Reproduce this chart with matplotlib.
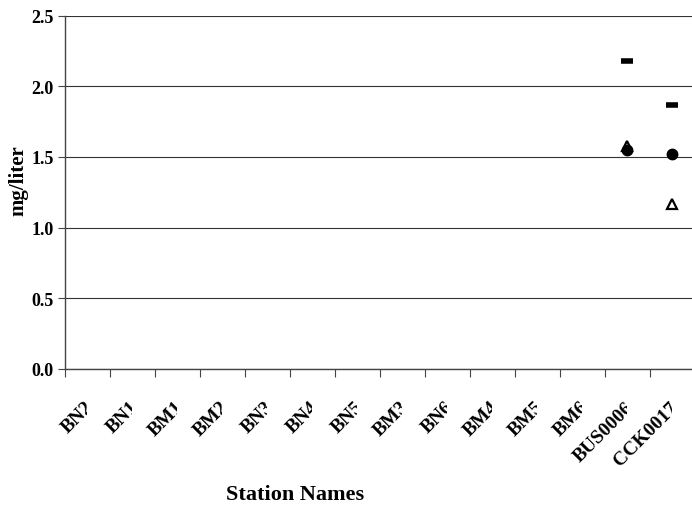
import numpy as np
import matplotlib
matplotlib.use("Agg")
import matplotlib.pyplot as plt
import matplotlib.transforms as mtransforms

# Station names along the x axis
stations = ["BN2", "BN1", "BM1", "BM2", "BN3", "BN4", "BN5", "BM3", "BN6",
            "BM4", "BM5", "BM6", "BUS0006", "CCK0017"]

# Values (mg/liter), None where nothing is plotted
dash_vals = [None] * 12 + [2.18, 1.87]
circle_vals = [None] * 12 + [1.55, 1.52]
triangle_vals = [None] * 12 + [1.575, 1.17]

plt.rcParams["font.family"] = ["Liberation Serif", "DejaVu Serif"]
plt.rcParams["font.weight"] = "bold"

W, H = 692, 510
fig = plt.figure(figsize=(W / 100, H / 100), dpi=100)
ax = fig.add_axes([65 / W, (H - 370) / H, 1 - 65 / W, (370 - 16.5) / H])

x = np.arange(len(stations))


def to_arr(vals):
    return np.array([np.nan if v is None else v for v in vals], dtype=float)


ax.plot(x, to_arr(triangle_vals), linestyle="none", marker="^", ms=6.5,
        mfc="white", mec="black", mew=1.6, zorder=3)
ax.plot(x, to_arr(circle_vals), linestyle="none", marker="o", ms=7.5,
        color="black", zorder=4)
ax.plot(x, to_arr(dash_vals), linestyle="none", marker="_", ms=9,
        mew=4, color="black", zorder=4)

ax.set_ylim(0, 2.5)
yt = np.arange(0, 2.51, 0.5)
ax.set_yticks(yt)
ax.set_yticklabels([f"{v:.1f}" for v in yt], fontsize=13, fontweight="bold")
ax.yaxis.grid(True, color="#333333", lw=0.8)
ax.set_axisbelow(True)

ax.set_xlim(-0.5, -0.5 + (W - 64.8) / 45)
ax.set_xticks(x - 0.5)
ax.set_xticklabels([])
ax.tick_params(axis="x", direction="out", length=6, color="#444444")
ax.tick_params(axis="y", direction="out", length=5, color="#444444", pad=3)

for s in ["top", "right"]:
    ax.spines[s].set_visible(False)
for s in ["left", "bottom"]:
    ax.spines[s].set_color("#444444")
    ax.spines[s].set_linewidth(1.0)

# rotated station labels, cut off at the category centre like the original
clip_trans = mtransforms.blended_transform_factory(ax.transData, fig.transFigure)
for i, name in enumerate(stations):
    off = mtransforms.ScaledTranslation(3 / 100, -35 / 100, fig.dpi_scale_trans)
    t = fig.text(i, 0, name, transform=ax.get_xaxis_transform() + off,
                 rotation=45, rotation_mode="anchor", ha="right", va="center",
                 fontsize=14, fontweight="bold")
    t.set_clip_box(mtransforms.TransformedBbox(
        mtransforms.Bbox([[-1, 0], [i, 1]]), clip_trans))
    t.set_clip_on(True)

fig.text(18 / W, 1 - 181 / H, "mg/liter", rotation=90, fontsize=15,
         fontweight="bold", ha="center", va="center")
fig.text(295 / W, 1 - 495 / H, "Station Names", fontsize=16,
         fontweight="bold", ha="center", va="center")

fig.savefig("out.png", dpi=100)
